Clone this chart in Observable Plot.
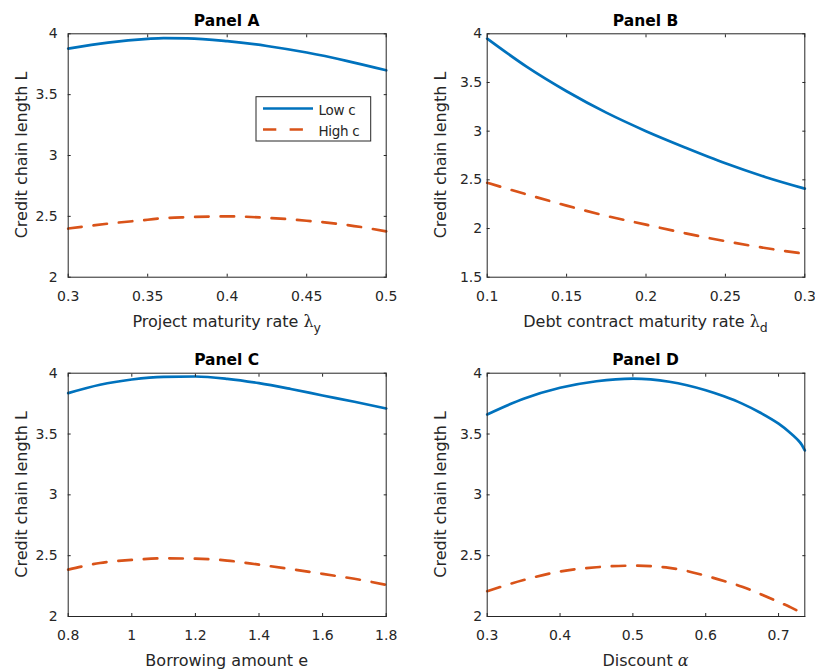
<!DOCTYPE html>
<html><head><meta charset="utf-8">
<script src="https://cdn.jsdelivr.net/npm/d3@7"></script>
<script src="https://cdn.jsdelivr.net/npm/@observablehq/plot@0.6"></script>
<style>
body{margin:0;background:#fff;}
#fig{position:relative;width:815px;height:670px;background:#fff;overflow:hidden;}
#fig svg{position:absolute;}
</style></head><body><div id="fig"></div>
<script>
// ---- data ----
const xA = [0.3, 0.325, 0.35, 0.36, 0.375, 0.4, 0.425, 0.45, 0.475, 0.5];
const lowA = [3.878, 3.928, 3.958, 3.964, 3.963, 3.94, 3.90, 3.846, 3.778, 3.70];
const highA = [2.40, 2.44, 2.472, 2.485, 2.493, 2.50, 2.488, 2.464, 2.43, 2.377];

const xB = [0.1, 0.125, 0.15, 0.175, 0.2, 0.225, 0.25, 0.275, 0.3];
const lowB = [3.95, 3.66, 3.41, 3.19, 3.00, 2.83, 2.67, 2.53, 2.41];
const highB = [2.47, 2.35, 2.235, 2.13, 2.04, 1.95, 1.87, 1.80, 1.74];

const xC = [0.8, 0.9, 1.0, 1.1, 1.2, 1.3, 1.4, 1.5, 1.6, 1.7, 1.8];
const lowC = [3.836, 3.905, 3.948, 3.97, 3.973, 3.954, 3.918, 3.87, 3.817, 3.765, 3.71];
const highC = [2.385, 2.44, 2.465, 2.478, 2.475, 2.46, 2.426, 2.39, 2.35, 2.31, 2.26];

const xD = [0.3, 0.35, 0.4, 0.45, 0.5, 0.55, 0.6, 0.625, 0.65, 0.675, 0.7, 0.715, 0.725, 0.732, 0.736];
const lowD = [3.661, 3.79, 3.88, 3.934, 3.955, 3.93, 3.86, 3.81, 3.75, 3.675, 3.585, 3.515, 3.46, 3.41, 3.365];
const highD = [2.208, 2.30, 2.37, 2.405, 2.418, 2.40, 2.335, 2.292, 2.245, 2.185, 2.12, 2.08, 2.05, 2.025, 2.01];

const xTicksA = [0.3, 0.35, 0.4, 0.45, 0.5];
const xTicksB = [0.1, 0.15, 0.2, 0.25, 0.3];
const xTicksC = [0.8, 1, 1.2, 1.4, 1.6, 1.8];
const xTicksD = [0.3, 0.4, 0.5, 0.6, 0.7];
const yTicks = [2, 2.5, 3, 3.5, 4];
const yTicksB = [1.5, 2, 2.5, 3, 3.5, 4];

const seriesNames = ["Low c", "High c"];
const titles = ["Panel A", "Panel B", "Panel C", "Panel D"];
const yLabel = "Credit chain length L";
const xLabels = [
  [["Project maturity rate ", ""], ["λ", "greek"], ["y", "sub"]],
  [["Debt contract maturity rate ", ""], ["λ", "greek"], ["d", "sub"]],
  [["Borrowing amount e", ""]],
  [["Discount ", ""], ["α", "italic"]]
];

// ---- style ----
const BLUE = "#0072BD", RED = "#D95319", INK = "#262626";
const FONT = "DejaVu Sans";
const LW = 2.7;

const panels = [
  {left: 0, top: 0, width: 407, height: 335, ml: 67.7, mr: 21.3, mt: 33.3, mb: 58.3,
   xs: xA, low: lowA, high: highA, xDomain: [0.3, 0.5], yDomain: [2, 4], xTicks: xTicksA, yTicks: yTicks, yPad: 13.5, legend: true},
  {left: 407, top: 0, width: 408, height: 335, ml: 79.7, mr: 10.7, mt: 33.3, mb: 58.3,
   xs: xB, low: lowB, high: highB, xDomain: [0.1, 0.3], yDomain: [1.5, 4], xTicks: xTicksB, yTicks: yTicksB, yPad: 8},
  {left: 0, top: 335, width: 407, height: 335, ml: 67.7, mr: 21.3, mt: 37.7, mb: 54,
   xs: xC, low: lowC, high: highC, xDomain: [0.8, 1.8], yDomain: [2, 4], xTicks: xTicksC, yTicks: yTicks, yPad: 13.5},
  {left: 407, top: 335, width: 408, height: 335, ml: 79.7, mr: 10.7, mt: 37.7, mb: 54,
   xs: xD, low: lowD, high: highD, xDomain: [0.3, 0.736], yDomain: [2, 4], xTicks: xTicksD, yTicks: yTicks, yPad: 8}
];

const fig = document.getElementById("fig");

panels.forEach((p, k) => {
  const data = p.xs.map((x, i) => ({x, low: p.low[i], high: p.high[i]}));
  const svgEl = Plot.plot({
    width: p.width, height: p.height,
    marginLeft: p.ml, marginRight: p.mr, marginTop: p.mt, marginBottom: p.mb,
    style: {background: "white", color: INK, fontFamily: FONT, fontSize: "14px", overflow: "visible"},
    x: {domain: p.xDomain, label: null},
    y: {domain: p.yDomain, label: null},
    marks: [
      Plot.line(data, {x: "x", y: "high", stroke: RED, strokeWidth: LW, strokeDasharray: "13.5,12", curve: "monotone-x"}),
      Plot.line(data, {x: "x", y: "low", stroke: BLUE, strokeWidth: LW, curve: "monotone-x"}),
      Plot.frame({stroke: INK, strokeWidth: 1}),
      Plot.axisX(p.xTicks, {anchor: "bottom", tickSize: -3, tickPadding: 17, tickFormat: d => String(d), fontSize: 14, label: null}),
      Plot.axisX(p.xTicks, {anchor: "top", tickSize: -3, fill: "none", label: null}),
      Plot.axisY(p.yTicks, {anchor: "left", tickSize: -3, tickPadding: p.yPad, tickFormat: d => String(d), fontSize: 14, label: null}),
      Plot.axisY(p.yTicks, {anchor: "right", tickSize: -3, fill: "none", label: null})
    ]
  });
  svgEl.style.left = p.left + "px";
  svgEl.style.top = p.top + "px";
  fig.appendChild(svgEl);

  const svg = d3.select(svgEl);
  const fl = p.ml, fr = p.width - p.mr, ft = p.mt, fb = p.height - p.mb;
  const cx = (fl + fr) / 2, cy = (ft + fb) / 2;

  // title
  svg.append("text").attr("x", cx).attr("y", ft - 7.5).attr("text-anchor", "middle")
    .attr("font-family", FONT).attr("font-weight", "bold").attr("font-size", 15.5).attr("fill", "#000")
    .text(titles[k]);

  // x label
  const xt = svg.append("text").attr("x", cx).attr("y", fb + 50).attr("text-anchor", "middle")
    .attr("font-family", FONT).attr("font-size", 16).attr("fill", INK);
  xLabels[k].forEach(([s, kind]) => {
    const ts = xt.append("tspan").text(s);
    if (kind === "greek") ts.attr("font-family", "DejaVu Serif").attr("font-size", 16);
    if (kind === "italic") ts.attr("font-family", "DejaVu Serif").attr("font-style", "italic");
    if (kind === "sub") ts.attr("font-size", 12.5).attr("dy", 5);
  });

  // y label
  svg.append("text").attr("transform", `translate(${fl - 41},${cy}) rotate(-90)`)
    .attr("text-anchor", "middle").attr("font-family", FONT).attr("font-size", 16).attr("fill", INK)
    .text(yLabel);

  // legend
  if (p.legend) {
    const g = svg.append("g");
    g.append("rect").attr("x", 256).attr("y", 96.7).attr("width", 114.7).attr("height", 44.3)
      .attr("fill", "white").attr("stroke", INK).attr("stroke-width", 1);
    const rows = [{y: 108.5, color: BLUE, dash: null}, {y: 129.5, color: RED, dash: "13.3,13.3"}];
    rows.forEach((r, i) => {
      g.append("line").attr("x1", 263).attr("x2", 313).attr("y1", r.y).attr("y2", r.y)
        .attr("stroke", r.color).attr("stroke-width", LW).attr("stroke-dasharray", r.dash);
      g.append("text").attr("x", 318.5).attr("y", r.y + 2).attr("dy", "0.35em")
        .attr("text-anchor", "start")
        .attr("font-family", FONT).attr("font-size", 13.5).attr("letter-spacing", -0.3).attr("fill", INK)
        .text(seriesNames[i]);
    });
  }
});
</script>
</body></html>
